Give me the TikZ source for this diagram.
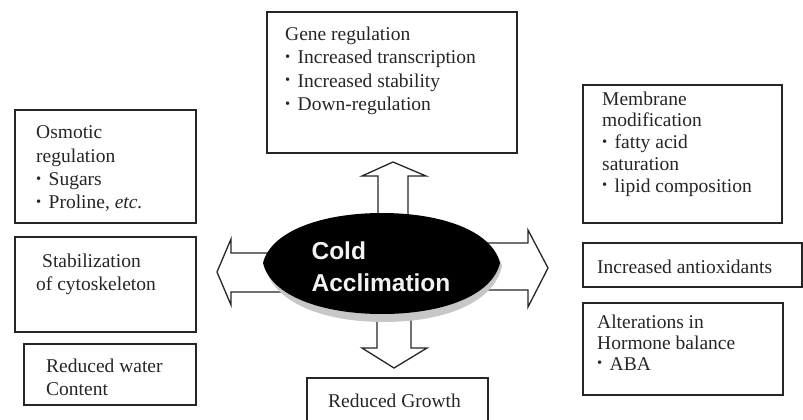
\documentclass[tikz,border=0pt]{standalone}
\usepackage{fontspec}
\setmainfont{Liberation Serif}
\newfontfamily\coldfont{Liberation Sans}
\newcommand\bl{\raisebox{0.12em}{\scalebox{0.75}{•}}\hspace{0.38em}}
\begin{document}
\begin{tikzpicture}[x=1pt,y=-1pt,
  box/.style={draw=black!85, line width=1.4pt},
  txt/.style={anchor=north west, inner sep=0pt, align=left, text=black!85,
    font=\fontsize{19.5}{23.4}\selectfont},
  barrow/.style={draw=black!85, line width=1.3pt, fill=white, line join=miter},
  coldtxt/.style={inner sep=0pt, align=left, text=black!5,
    font=\coldfont\bfseries\fontsize{24.5}{32}\selectfont}]
\clip (0,0) rectangle (803,420);
\fill[white] (0,0) rectangle (803,420);

% boxes
\draw[box] (267,12) rectangle (517,153);
\draw[box] (15,110) rectangle (196,223);
\draw[box] (15,237) rectangle (196,332);
\draw[box] (24,344) rectangle (196,405);
\draw[box] (583,85) rectangle (782,223);
\draw[box] (583,243) rectangle (802,287);
\draw[box] (583,303) rectangle (783,395);
\draw[box] (307,378) rectangle (488,425);

% texts
\node[txt] (gene) at (285,26.5) {Gene regulation\\\bl Increased transcription\\\bl Increased stability\\\bl Down-regulation};
\node[txt] (osm) at (36,125.5) {Osmotic\\regulation\\\bl Sugars\\\bl Proline, \textit{etc.}};
\node[txt] (stab) at (36,253.5) {\hspace*{6pt}Stabilization\\of cytoskeleton};
\node[txt] (water) at (46,358.5) {Reduced water\\Content};
\node[txt, font=\fontsize{19.5}{21.7}\selectfont] (memb) at (602,91.5) {Membrane\\modification\\\bl fatty acid\\saturation\\\bl lipid composition};
\node[txt] (antiox) at (597,259.5) {Increased antioxidants};
\node[txt, font=\fontsize{19.5}{21}\selectfont] (alter) at (597,314.5) {Alterations in\\Hormone balance\\\bl ABA};
\node[txt] (growth) at (328,393.5) {Reduced Growth};

% block arrows
\draw[barrow] (378,225) -- (378,176) -- (362,176) -- (393,162) -- (426,176) -- (408,176) -- (408,225) -- cycle;
\draw[barrow] (377,305) -- (377,348) -- (362,348) -- (394,368) -- (427,348) -- (411,348) -- (411,305) -- cycle;
\draw[barrow] (470,243) -- (528,243) -- (528,230) -- (548,268) -- (528,307) -- (528,290) -- (470,290) -- cycle;
\draw[barrow] (290,253) -- (231,253) -- (231,239) -- (217,272) -- (231,305) -- (231,292) -- (290,292) -- cycle;

% center lens with shadow
\fill[black!22] (265,266) .. controls (273,235) and (324,217) .. (384,217)
  .. controls (444,217) and (494,235) .. (502,266)
  .. controls (494,303) and (444,322) .. (384,322)
  .. controls (324,322) and (273,303) .. (265,266) -- cycle;
\fill[black] (263,263) .. controls (271,231) and (322,213) .. (382,213)
  .. controls (442,213) and (492,231) .. (500,263)
  .. controls (492,296) and (442,314) .. (382,314)
  .. controls (322,314) and (271,296) .. (263,263) -- cycle;
\node[coldtxt] (cold) at (381,267) {Cold\\Acclimation};
\end{tikzpicture}
\end{document}
